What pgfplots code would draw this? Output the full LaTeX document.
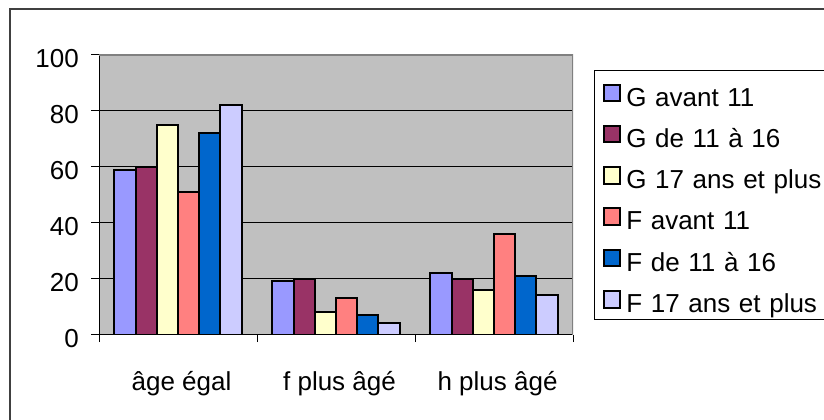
\documentclass[border=0pt]{standalone}
\usepackage{pgfplots}
\pgfplotsset{compat=1.18}
\usepackage{fontspec}
\setmainfont{Liberation Sans}
\definecolor{c1}{HTML}{9999FF}
\definecolor{c2}{HTML}{993366}
\definecolor{c3}{HTML}{FFFFCC}
\definecolor{c4}{HTML}{FF8080}
\definecolor{c5}{HTML}{0066CC}
\definecolor{c6}{HTML}{CCCCFF}
\definecolor{bg}{HTML}{C0C0C0}
\definecolor{bord}{HTML}{808080}
\pgfplotsset{
  mybar/.style={fill=#1, draw=black, line width=2bp,
    legend image code/.code={\draw[fill=#1, draw=black, line width=2bp] (0bp,5bp) rectangle (16.5bp,21.5bp);}},
}
\begin{document}
\fontsize{26bp}{31bp}\selectfont
\begin{tikzpicture}[x=1bp,y=1bp]
\useasboundingbox (0,0) rectangle (824,419);
\draw[line width=1.5bp, black!75] (10,410) rectangle (880,-40);
\begin{axis}[
  at={(99bp,84.5bp)}, anchor=south west,
  scale only axis, width=474bp, height=279.5bp,
  xmin=-0.5, xmax=2.5, ymin=0, ymax=100,
  ybar=0pt, bar width=0.134,
  axis background/.style={fill=bg},
  axis x line*=bottom, axis y line*=left,
  axis line style={black, line width=1bp, -},
  tick align=outside,
  major tick length=7.5bp,
  tick style={black, line width=1bp},
  xtick={-0.5,0.5,1.5,2.5}, xticklabels={},
  extra x ticks={0,1,2},
  extra x tick labels={âge égal,f plus âgé,h plus âgé},
  extra x tick style={major tick length=0pt},
  xticklabel style={anchor=north, inner sep=0pt, text height=18bp, text depth=5bp, yshift=-37.5bp, xshift=3.5bp},
  ytick={0,20,40,60,80,100},
  yticklabel style={anchor=east, inner sep=0pt, text height=18.6bp, text depth=0pt, xshift=-12.5bp, yshift=-3.5bp},
  /pgf/number format/assume math mode=true,
  ymajorgrids, major grid style={black, line width=1bp},
  legend style={at={(1.0443,0.9463)}, anchor=north west, draw=black, line width=1bp, fill=white,
    inner xsep=8.25bp, inner ysep=7bp, row sep=12.8bp, column sep=5bp,
    cells={anchor=base west},
    nodes={anchor=base west, inner sep=0pt, text height=28.5bp, text depth=0pt, text width=200bp}},
]
\addplot[mybar=c1] coordinates {(0,59) (1,19) (2,22)};
\addplot[mybar=c2] coordinates {(0,60) (1,20) (2,20)};
\addplot[mybar=c3] coordinates {(0,75) (1,8) (2,16)};
\addplot[mybar=c4] coordinates {(0,51) (1,13) (2,36)};
\addplot[mybar=c5] coordinates {(0,72) (1,7) (2,21)};
\addplot[mybar=c6] coordinates {(0,82) (1,4) (2,14)};
\legend{G avant 11, G de 11 à 16, G 17 ans et plus, F avant 11, F de 11 à 16, F 17 ans et plus}
\draw[bord, line width=2bp] (rel axis cs:0,1) -- (rel axis cs:1,1) -- (rel axis cs:1,0);
\end{axis}
\end{tikzpicture}
\end{document}
